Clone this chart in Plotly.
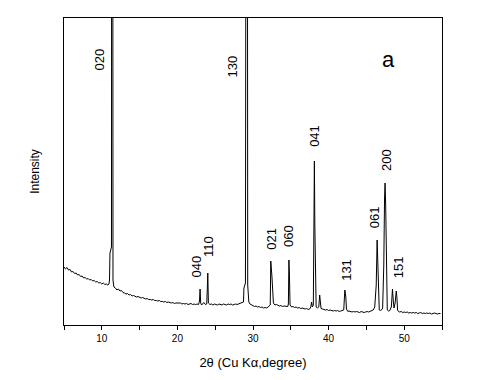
import plotly.graph_objects as go

# 2-theta (degree) and intensity (arbitrary units; plot window is 0..307)
two_theta = [
    5.0, 5.2, 5.4, 5.6, 5.8, 6.0, 6.2, 6.4, 6.6, 6.8, 7.0, 7.2, 7.4, 7.6, 7.8,
    8.0, 8.2, 8.4, 8.6, 8.8, 9.0, 9.2, 9.4, 9.6, 9.8, 10.0, 10.2, 10.4, 10.6, 10.8,
    10.95, 11.02, 11.08, 11.28, 11.33, 11.42, 11.48, 11.6, 11.8,
    12.0, 12.2, 12.4, 12.6, 12.8, 13.0, 13.2, 13.4, 13.6, 13.8, 14.0, 14.2, 14.4,
    14.6, 14.8, 15.0, 15.2, 15.4, 15.6, 15.8, 16.0, 16.2, 16.4, 16.6, 16.8, 17.0,
    17.2, 17.4, 17.6, 17.8, 18.0, 18.2, 18.4, 18.6, 18.8, 19.0, 19.2, 19.4, 19.6,
    19.8, 20.0, 20.2, 20.4, 20.6, 20.8, 21.0, 21.2, 21.4, 21.6, 21.8, 22.0, 22.2,
    22.4, 22.6, 22.8, 22.92, 23.0, 23.08, 23.2, 23.35, 23.5, 23.7, 23.88, 23.95,
    24.02, 24.1, 24.3, 24.5, 24.7, 24.9, 25.1, 25.3, 25.5, 25.7, 25.9, 26.1, 26.3,
    26.5, 26.7, 26.9, 27.1, 27.3, 27.5, 27.7, 27.9, 28.1, 28.3, 28.5, 28.65,
    28.74, 28.8, 28.95, 29.0, 29.15, 29.22, 29.3, 29.45, 29.6, 29.8, 30.0, 30.2,
    30.4, 30.6, 30.8, 31.0, 31.2, 31.4, 31.6, 31.8, 32.0, 32.12, 32.2, 32.28,
    32.35, 32.42, 32.5, 32.7, 32.9, 33.1, 33.3, 33.5, 33.7, 33.9, 34.1, 34.3,
    34.5, 34.6, 34.68, 34.75, 34.82, 34.9, 35.1, 35.3, 35.5, 35.7, 35.9, 36.1,
    36.3, 36.5, 36.7, 36.9, 37.1, 37.3, 37.5, 37.65, 37.75, 37.85, 37.98, 38.05,
    38.12, 38.18, 38.26, 38.35, 38.5, 38.7, 38.82, 38.9, 39.0, 39.2, 39.4, 39.6,
    39.8, 40.0, 40.2, 40.4, 40.6, 40.8, 41.0, 41.2, 41.4, 41.6, 41.8, 42.0, 42.15,
    42.28, 42.36, 42.45, 42.55, 42.7, 42.9, 43.1, 43.3, 43.5, 43.7, 43.9, 44.1,
    44.3, 44.5, 44.7, 44.9, 45.1, 45.3, 45.5, 45.7, 45.9, 46.1, 46.3, 46.42,
    46.52, 46.6, 46.7, 46.85, 47.0, 47.15, 47.3, 47.4, 47.47, 47.55, 47.62, 47.68,
    47.76, 47.9, 48.1, 48.3, 48.45, 48.56, 48.65, 48.8, 48.95, 49.05, 49.12, 49.25,
    49.4, 49.6, 49.8, 50.0, 50.2, 50.4, 50.6, 50.8, 51.0, 51.2, 51.4, 51.6, 51.8,
    52.0, 52.2, 52.4, 52.6, 52.8, 53.0, 53.2, 53.4, 53.6, 53.8, 54.0, 54.2, 54.4,
    54.6, 54.8, 55.0,
]
intensity = [
    58, 56, 57.5, 55, 55.5, 53, 53.5, 51.5, 52, 50, 50.5, 48.5, 49, 47, 47.5,
    46, 46.5, 45, 45.5, 44, 44.5, 43, 43.5, 42, 42.5, 41, 42, 40.5, 41, 40,
    41, 45, 72, 78, 1000, 1000, 45, 38, 37,
    35, 36, 34, 34.5, 32.5, 32, 31, 31.5, 30, 30.5, 29, 29.5, 28.5,
    28, 28.5, 27.5, 27, 27.5, 26.5, 26, 26.5, 25.5, 25.5, 25, 25.5, 24.5,
    24.5, 24, 24.5, 23.5, 23.5, 23, 23.5, 22.5, 23, 22.5, 22, 22.5, 21.5,
    22, 22, 21.5, 22, 21, 21.5, 21, 21.5, 20.5, 21, 21.5, 20.5, 21,
    20.5, 21, 20.5, 24, 36, 22, 20, 21, 22.5, 20.5, 21, 35,
    52, 22, 20.5, 21, 20, 21, 20.5, 20, 21, 20.5, 20, 21, 20.5,
    20, 21, 20.5, 21, 20, 20.5, 21, 20.5, 21, 21.5, 22, 22.5, 23,
    37, 40, 42, 1000, 1000, 40, 23, 21, 20, 19.5, 18.5, 19,
    18, 18.5, 17.5, 18, 17, 17.5, 17, 18, 18.5, 19, 20, 64,
    58, 49, 22, 20, 20.5, 19.5, 19, 19.5, 18.5, 19, 18.5, 18,
    18.5, 21, 65, 50, 20, 18, 18.5, 17.5, 18, 17, 17.5, 16.5,
    17, 16.5, 16, 16.5, 15.5, 16, 18, 23, 18, 20, 164,
    164, 100, 24, 18, 17, 18, 30, 22, 16.5, 16, 15.5, 15,
    15.5, 14.5, 15, 14.5, 14, 14.5, 14, 14.5, 13.5, 14, 14.5, 15,
    35, 28, 16, 14, 13.5, 14, 13.5, 13, 13.5, 13, 13.5, 13,
    12.5, 13.5, 13, 12.5, 13, 13.5, 13, 13.5, 14, 15, 18, 40,
    85, 60, 20, 15, 14.5, 15, 17, 60, 126, 142, 120, 86,
    22, 15, 14, 14.5, 18, 36, 24, 17, 22, 34, 26, 15,
    13.5, 13, 13.5, 12.5, 13, 12.5, 13, 12, 12.5, 12, 12.5, 12, 12.5,
    11.5, 12, 12.5, 11.5, 12, 11.5, 12, 11.5, 12, 11, 11.5, 12, 11.5,
    11, 11.5, 11.5,
]

# Miller-index labels and their positions (data coordinates)
peak_labels = ["020", "130", "040", "110", "021", "060", "041", "131", "061", "200", "151"]
label_x = [9.57, 27.28, 22.51, 24.05, 32.35, 34.64, 38.05, 42.28, 46.03, 47.58, 49.21]
label_y = [265, 259, 59, 78, 86, 89, 189, 55, 108, 165, 58]

x_tick_vals = [5, 10, 15, 20, 25, 30, 35, 40, 45, 50, 55]
x_tick_text = ["", "10", "", "20", "", "30", "", "40", "", "50", ""]

FONT = "Liberation Sans, Arial, sans-serif"

fig = go.Figure()
fig.add_trace(go.Scatter(
    x=two_theta, y=intensity, mode="lines",
    line=dict(color="black", width=1),
    hoverinfo="skip", showlegend=False,
))

for lab, lx, ly in zip(peak_labels, label_x, label_y):
    fig.add_annotation(
        x=lx, y=ly, text=lab, textangle=-90, showarrow=False,
        xanchor="center", yanchor="middle",
        font=dict(family=FONT, size=13, color="black"),
    )

fig.add_annotation(
    x=47.98, y=266, text="a", showarrow=False,
    xanchor="center", yanchor="middle",
    font=dict(family=FONT, size=22, color="black"),
)

fig.update_layout(
    width=500, height=380,
    margin=dict(l=56, r=66, t=10, b=63),
    paper_bgcolor="white", plot_bgcolor="white",
    font=dict(family=FONT, color="black"),
    xaxis=dict(
        range=[5, 55], tickvals=x_tick_vals, ticktext=x_tick_text,
        ticks="outside", ticklen=4, tickwidth=1, tickcolor="black",
        showline=True, linecolor="black", linewidth=1, mirror=True,
        showgrid=False, zeroline=False,
        tickfont=dict(size=10, color="black"),
        title=dict(text="2θ (Cu Kα,degree)", font=dict(size=13), standoff=14),
    ),
    yaxis=dict(
        range=[0, 307], showticklabels=False, ticks="",
        showline=True, linecolor="black", linewidth=1, mirror=True,
        showgrid=False, zeroline=False,
        title=dict(text="Intensity", font=dict(size=12), standoff=20),
    ),
)

fig.write_html("out.html")
